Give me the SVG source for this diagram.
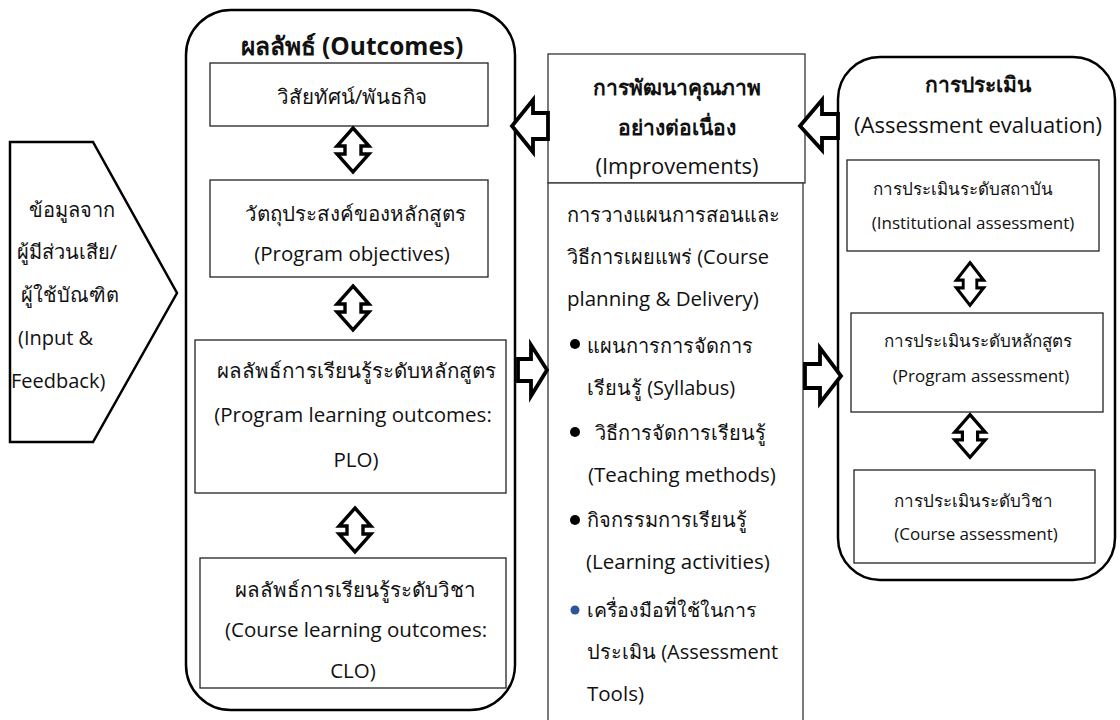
<svg xmlns="http://www.w3.org/2000/svg" xmlns:xlink="http://www.w3.org/1999/xlink" width="1120" height="720" viewBox="0 0 1120 720">
<style>
  text { font-family: 'Open Sans', 'Noto Sans', 'DejaVu Sans', sans-serif; fill: #111; }
  .t { font-size: 20.5px; }
  .m { font-size: 20px; }
  .me { font-size: 20.5px; }
  .r { font-size: 17px; }
  .h { font-size: 22px; }
  .hb { font-size: 21px; font-weight: bold; }
  .tb { font-size: 24.5px; font-weight: bold; }
  .c { text-anchor: middle; }
  .outer { fill: #fff; stroke: #000; stroke-width: 2.5; }
  .box { fill: #fff; stroke: #222; stroke-width: 1.3; }
  .mbox { fill: #fff; stroke: #333; stroke-width: 1.3; }
  .arr { fill: #fff; stroke: #000; stroke-width: 3.4; stroke-linejoin: miter; }
  .barr { fill: #fff; stroke: #000; stroke-width: 3.8; stroke-linejoin: miter; }
</style>
<defs>
  <path id="dbl" d="M0,-22 L16,-4 L8,-4 L8,4 L16,4 L0,22 L-16,4 L-8,4 L-8,-4 L-16,-4 Z"/>
</defs>
<rect width="1120" height="720" fill="#fff"/>

<g id="input">
  <polygon class="outer" points="10,142 93,142 177,293 93,442 10,442"/>
  <text class="m c" x="72" y="217">ข้อมูลจาก</text>
  <text class="m c" x="67" y="259">ผู้มีส่วนเสีย/</text>
  <text class="m c" x="70" y="302">ผู้ใช้บัณฑิต</text>
  <text class="m" x="18" y="345">(Input &amp;</text>
  <text class="m" x="11" y="388">Feedback)</text>
</g>

<g id="outcomes">
  <rect class="outer" x="186" y="10" width="329" height="700" rx="45" ry="45"/>
  <text class="tb c" x="352" y="55">ผลลัพธ์ (Outcomes)</text>
</g>

<g id="vision">
  <rect class="box" x="210" y="63" width="278" height="63"/>
  <text class="t c" x="352" y="104">วิสัยทัศน์/พันธกิจ</text>
</g>

<g id="objectives">
  <rect class="box" x="210" y="180" width="278" height="97"/>
  <text class="t c" x="355" y="221">วัตถุประสงค์ของหลักสูตร</text>
  <text class="t c" x="352" y="261">(Program objectives)</text>
</g>

<g id="plo">
  <rect class="box" x="195" y="340" width="311" height="153"/>
  <text class="t c" x="356" y="378">ผลลัพธ์การเรียนรู้ระดับหลักสูตร</text>
  <text class="t c" x="353" y="422">(Program learning outcomes:</text>
  <text class="t c" x="356" y="467">PLO)</text>
</g>

<g id="clo">
  <rect class="box" x="200" y="558" width="306" height="130"/>
  <text class="t c" x="355" y="597">ผลลัพธ์การเรียนรู้ระดับวิชา</text>
  <text class="t c" x="356" y="637">(Course learning outcomes:</text>
  <text class="t c" x="353" y="678">CLO)</text>
</g>

<g id="improvements">
  <rect class="mbox" x="548" y="54" width="257" height="129"/>
  <text class="hb c" x="677" y="95">การพัฒนาคุณภาพ</text>
  <text class="hb c" x="677" y="135">อย่างต่อเนื่อง</text>
  <text class="h c" x="677" y="174">(Improvements)</text>
</g>

<g id="planning">
  <rect class="mbox" x="548" y="183" width="255" height="545"/>
  <text class="m" x="567" y="222">การวางแผนการสอนและ</text>
  <text class="m" x="567" y="264">วิธีการเผยแพร่ (Course</text>
  <text class="me" x="567" y="306">planning &amp; Delivery)</text>
  <circle cx="575" cy="344" r="5" fill="#000"/>
  <text class="m" x="587" y="353">แผนการการจัดการ</text>
  <text class="m" x="587" y="395">เรียนรู้ (Syllabus)</text>
  <circle cx="575" cy="432" r="5" fill="#000"/>
  <text class="m" x="595" y="440">วิธีการจัดการเรียนรู้</text>
  <text class="me" x="588" y="482">(Teaching methods)</text>
  <circle cx="575" cy="520" r="5" fill="#000"/>
  <text class="m" x="587" y="527">กิจกรรมการเรียนรู้</text>
  <text class="me" x="586" y="569">(Learning activities)</text>
  <circle cx="575" cy="610" r="4.5" fill="#2E5597"/>
  <text class="m" x="587" y="617" style="font-size:19.5px">เครื่องมือที่ใช้ในการ</text>
  <text class="m" x="587" y="659">ประเมิน (Assessment</text>
  <text class="me" x="587" y="701">Tools)</text>
</g>

<g id="assessment">
  <rect class="outer" x="838" y="57" width="277" height="523" rx="42" ry="42"/>
  <text class="hb c" x="978" y="92">การประเมิน</text>
  <text class="h c" x="978" y="133">(Assessment evaluation)</text>
</g>

<g id="institutional">
  <rect class="box" x="847" y="160" width="252" height="91"/>
  <text class="r c" x="963" y="195">การประเมินระดับสถาบัน</text>
  <text class="r c" x="973" y="229">(Institutional assessment)</text>
</g>

<g id="program">
  <rect class="box" x="851" y="313" width="252" height="99"/>
  <text class="r c" x="978" y="347">การประเมินระดับหลักสูตร</text>
  <text class="r c" x="981" y="382">(Program assessment)</text>
</g>

<g id="course">
  <rect class="box" x="854" y="470" width="241" height="93"/>
  <text class="r c" x="973" y="507">การประเมินระดับวิชา</text>
  <text class="r c" x="976" y="540">(Course assessment)</text>
</g>

<g id="connectors">
  <use xlink:href="#dbl" class="arr" transform="translate(353,150)"/>
  <use xlink:href="#dbl" class="arr" transform="translate(353,308)"/>
  <use xlink:href="#dbl" class="arr" transform="translate(355,530)"/>
  <use xlink:href="#dbl" class="arr" transform="translate(970,284) scale(0.85,0.97)"/>
  <use xlink:href="#dbl" class="arr" transform="translate(970,436) scale(0.95,0.97)"/>
  <polygon class="barr" points="548,113 533,113 533,100 512,126 533,152 533,139 548,139"/>
  <polygon class="barr" points="838,114 822,114 822,100 800,126 822,150 822,138 838,138"/>
  <polygon class="barr" points="518,359 531,359 531,345 547,370 531,396 531,381 518,381"/>
  <polygon class="barr" points="805,364 820,364 820,348 841,376 820,403 820,388 805,388"/>
</g>
</svg>
